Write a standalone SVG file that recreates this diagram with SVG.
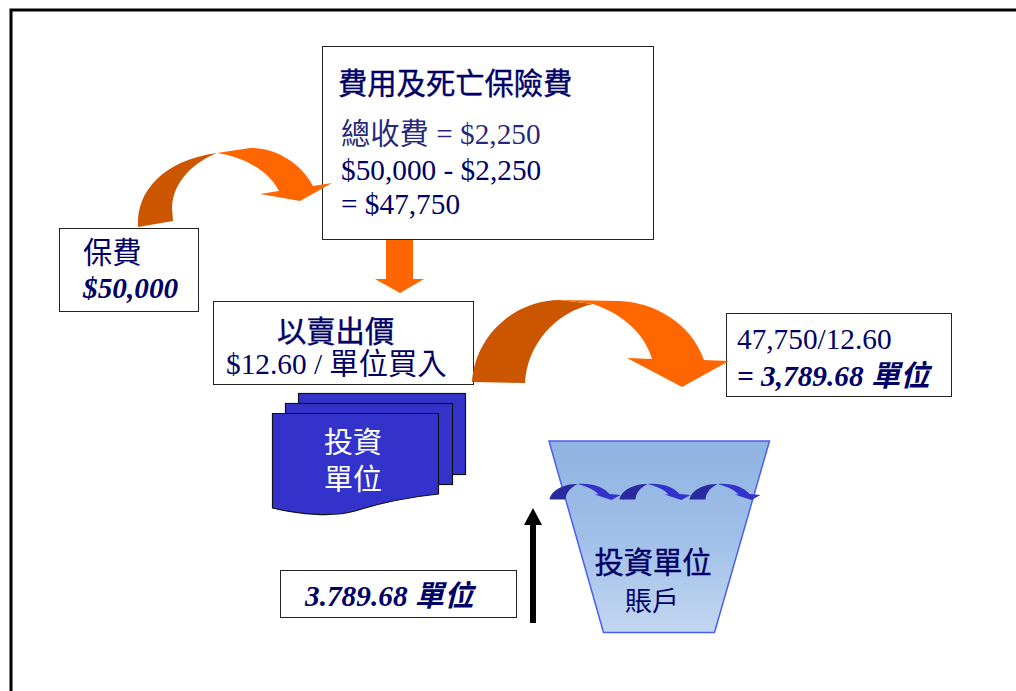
<svg xmlns="http://www.w3.org/2000/svg" width="1016" height="691" viewBox="0 0 1016 691">
<defs>
<linearGradient id="fun" x1="0" y1="0" x2="0" y2="1"><stop offset="0" stop-color="#90b3e2"/><stop offset="0.5" stop-color="#a0bfe8"/><stop offset="1" stop-color="#c2d6f0"/></linearGradient>
<g id="curlarrow">
<path fill="#2a2aa0" d="M0 15.500 C2 6 14 0 28 0 C22 3 16.500 8 16 15.500Z"/>
<path fill="#3333cc" d="M28 0 C43 -1 54 3 60 10 L71 11 L62 16 L45 10.500 L49 10.500 C44 5 36 2 28 0Z"/>
</g>
</defs>
<style>
.box{fill:#fff;stroke:#222;stroke-width:1}
.t{font-family:"Liberation Serif","Noto Sans CJK TC",serif;fill:#000066;font-size:29.300px}
.h{stroke:#000066;stroke-width:.4}
.i{font-style:italic;font-weight:bold}
.dark{fill:#cc5500}
.org{fill:#ff6600}
.pg{fill:#3333cc;stroke:#111;stroke-width:1.2}
.w{font-family:"Liberation Serif","Noto Sans CJK TC",serif;fill:#fff;font-size:29px;text-anchor:middle}
</style>
<rect id="frame" x="11" y="10" width="1010" height="690" fill="#fff" stroke="#000" stroke-width="3"/>
<g id="node-fee"><rect class="box" x="322.500" y="46.500" width="331" height="193"/>
<text class="t h" x="338" y="94">費用及死亡保險費</text>
<text class="t" x="341" y="144" fill-opacity=".85">總收費 = $2,250</text>
<text class="t" x="341" y="180">$50,000 - $2,250</text>
<text class="t" x="341" y="214">= $47,750</text></g>
<g id="node-premium"><rect class="box" x="59.500" y="228.500" width="139" height="83"/>
<text class="t" x="83" y="263">保費</text>
<text class="t i" x="83" y="298">$50,000</text></g>
<g id="node-price"><rect class="box" x="213.500" y="301.500" width="260" height="83"/>
<text class="t h" x="277" y="342">以賣出價</text>
<text class="t" x="226" y="374">$12.60 / 單位買入</text></g>
<g id="node-result"><rect class="box" x="726.500" y="313.500" width="225" height="83"/>
<text class="t" x="737" y="349">47,750/12.60</text>
<text class="t i" x="737" y="386">= 3,789.68 單位</text></g>
<g id="node-units">
<rect class="pg" x="298.500" y="393.500" width="167" height="81"/>
<rect class="pg" x="285.500" y="403.500" width="167" height="81"/>
<path class="pg" d="M272.500 413.500 H438.500 V494 C410 497 380 503 355 511 C335 517 300 515 272.500 508Z"/>
<text class="w" x="353" y="453">投資</text>
<text class="w" x="353" y="490">單位</text>
</g>
<g id="node-account">
<path d="M549 441 H769.500 L714.500 632.500 H603.500Z" fill="url(#fun)" stroke="#4a5ef0" stroke-width="1.500"/>
<use href="#curlarrow" x="549.500" y="484"/>
<use href="#curlarrow" x="619.500" y="484"/>
<use href="#curlarrow" x="689.500" y="484"/>
<text class="t h" x="653" y="573" text-anchor="middle">投資單位</text>
<text class="t" x="652" y="611" text-anchor="middle" style="font-size:27px">賬戶</text>
</g>
<g id="node-count"><rect class="box" x="280.500" y="570.500" width="236" height="47"/>
<text class="t i" x="305" y="606">3.789.68 單位</text></g>
<g id="connectors">
<path class="dark" d="M138 227 C136 190 165 160 217 153 C195 162 173 180 172 208 L173 221Z"/>
<path class="org" d="M217 153 L250 148 C275 148 300 162 313 186 L332 183 L300 201 L260 194 L279 191 C270 172 245 157 217 153Z"/>
<path class="org" d="M386 240 H413 V279 H424 L400 293 L375 279 H386Z"/>
<path class="dark" d="M472 382 C475 335 515 300 560 300 L593 304 C555 312 527 345 525 383Z"/>
<path class="org" d="M593 304 L560 300 L620 301 C650 302 690 320 704 360 L729 361 L682 387 L627 358 L652 359 C645 335 625 315 593 304Z"/>
<path fill="#000" d="M530 623 H536 V525 H542 L533 508 L524 525 H530Z"/>
</g>
</svg>
